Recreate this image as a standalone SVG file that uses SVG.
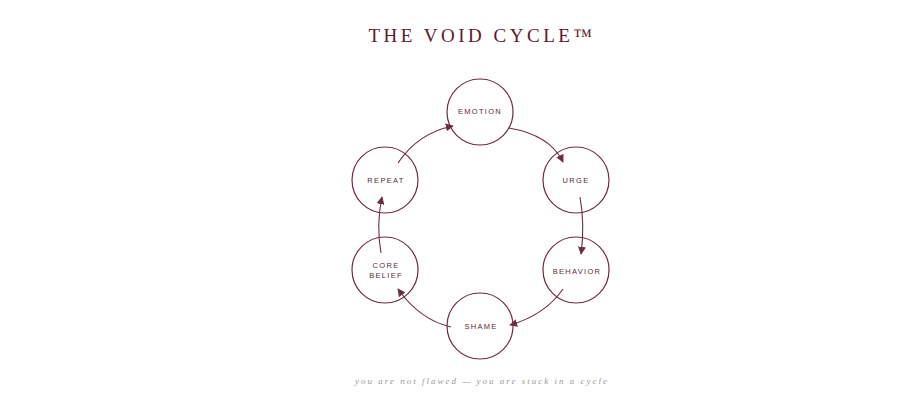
<svg xmlns="http://www.w3.org/2000/svg" width="900" height="414" viewBox="0 0 900 414">
<style>
.n{fill:none;stroke:#6e2c3e;stroke-width:1.2}
.t{font-family:"Liberation Sans",Arial,sans-serif;font-size:7.5px;letter-spacing:1.3px;fill:#5a2a36;text-anchor:middle}
.c{fill:none;stroke:#6e2c3e;stroke-width:1.1;marker-end:url(#a)}
</style>
<defs><marker id="a" viewBox="0 0 10 10" refX="9" refY="5" markerWidth="8" markerHeight="8" orient="auto" markerUnits="userSpaceOnUse"><path d="M0,0 L10,5 L0,10 z" fill="#6e2c3e"/></marker></defs>
<rect width="900" height="414" fill="#fff"/>
<text x="482" y="42" text-anchor="middle" font-family="Liberation Serif,serif" font-size="19" letter-spacing="3.5" fill="#5a1a2c">THE VOID CYCLE™</text>
<g id="emotion"><circle class="n" cx="480" cy="112" r="33"/><text class="t" x="480" y="114">EMOTION</text></g>
<g id="urge"><circle class="n" cx="576" cy="180" r="33"/><text class="t" x="576" y="183">URGE</text></g>
<g id="behavior"><circle class="n" cx="576" cy="270" r="33"/><text class="t" x="577" y="274">BEHAVIOR</text></g>
<g id="shame"><circle class="n" cx="480" cy="326" r="33"/><text class="t" x="481" y="329">SHAME</text></g>
<g id="corebelief"><circle class="n" cx="385" cy="270" r="33"/><text class="t" x="386" y="268">CORE</text><text class="t" x="386" y="278">BELIEF</text></g>
<g id="repeat"><circle class="n" cx="385" cy="180" r="33"/><text class="t" x="386" y="183">REPEAT</text></g>
<g id="connectors">
<path class="c" d="M509,128 Q550,135 563,162"/>
<path class="c" d="M580,197 Q585,225 581,254"/>
<path class="c" d="M563,289 Q545,315 510,325"/>
<path class="c" d="M451,327 Q420,320 398,289"/>
<path class="c" d="M381,253 Q376,225 382,197"/>
<path class="c" d="M398,163 Q418,133 453,126"/>
</g>
<text x="482" y="384" text-anchor="middle" font-family="Liberation Serif,serif" font-style="italic" font-size="9" letter-spacing="2" fill="#999">you are not flawed — you are stuck in a cycle</text>
</svg>
